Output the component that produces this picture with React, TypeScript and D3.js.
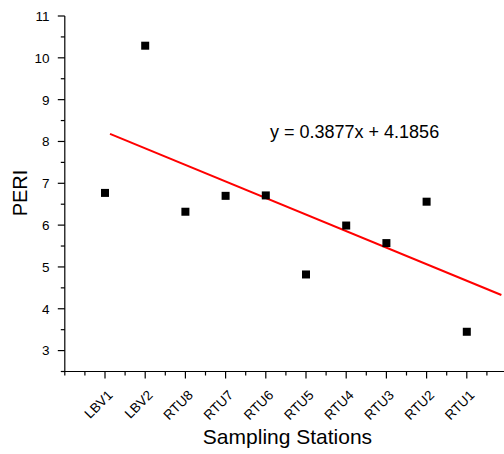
import React from 'react';
import * as d3 from 'd3';

// sampling stations, left to right
const stations = ['LBV1', 'LBV2', 'RTU8', 'RTU7', 'RTU6', 'RTU5', 'RTU4', 'RTU3', 'RTU2', 'RTU1'];
// PERI value per station
const peri = [6.77, 10.29, 6.32, 6.70, 6.71, 4.82, 5.99, 5.57, 6.56, 3.45];
// fitted line as drawn: x position (station index) and y
const fitX = [1.125, 10.86];
const fitY = [8.18, 4.33];
const yTicks = [3, 4, 5, 6, 7, 8, 9, 10, 11];
const equation = 'y = 0.3877x + 4.1856';

const W = 504;
const H = 454;
const font = '"Liberation Sans", Arial, sans-serif';

const App = () => {
  const x = d3.scaleLinear().domain([0, 11]).range([64.8, 507]);
  const y = d3.scaleLinear().domain([2.5, 11]).range([371.5, 16]);
  const x0 = x(0);
  const yBase = y(2.5);

  const yMinor = d3.range(2.5, 11, 0.5).filter(v => !Number.isInteger(v));
  const xMinor = d3.range(0, 11, 0.5).filter(v => !Number.isInteger(v) || v === 0);
  const line = d3.line<number>().x((_, i) => x(fitX[i])).y(d => y(d));

  return (
    <svg width={W} height={H} style={{ position: 'absolute', left: 0, top: 0, background: '#fff' }}
      fontFamily={font}>
      {/* y axis */}
      <line x1={x0} x2={x0} y1={y(11)} y2={yBase + 0.5} stroke="#000" strokeWidth={1.2} />
      {yTicks.map(t => (
        <g key={t}>
          <line x1={x0 - 7} x2={x0} y1={y(t)} y2={y(t)} stroke="#000" strokeWidth={1.2} />
          <text x={49.5} y={y(t)} dy="0.36em" textAnchor="end" fontSize={13.5} fill="#000">{t}</text>
        </g>
      ))}
      {yMinor.map(t => (
        <line key={'ym' + t} x1={x0 - 4} x2={x0} y1={y(t)} y2={y(t)} stroke="#000" strokeWidth={1.2} />
      ))}

      {/* x axis */}
      <line x1={x0} x2={x(11)} y1={yBase} y2={yBase} stroke="#000" strokeWidth={1.2} />
      {stations.map((s, i) => (
        <g key={s}>
          <line x1={x(i + 1)} x2={x(i + 1)} y1={yBase} y2={yBase + 7} stroke="#000" strokeWidth={1.2} />
          <text transform={`translate(${x(i + 1) + 5},${yBase + 21}) rotate(-45)`} dy="0.36em"
            textAnchor="end" fontSize={13.5} fill="#000">{s}</text>
        </g>
      ))}
      {xMinor.map(t => (
        <line key={'xm' + t} x1={x(t)} x2={x(t)} y1={yBase} y2={yBase + 4} stroke="#000" strokeWidth={1.2} />
      ))}

      {/* fit line */}
      <path d={line(fitY) || ''} fill="none" stroke="#ff0000" strokeWidth={2} />

      {/* points */}
      {peri.map((v, i) => (
        <rect key={i} x={x(i + 1) - 4} y={y(v) - 4} width={8} height={8} fill="#000" />
      ))}

      <text x={270} y={137.5} fontSize={18} fill="#000">{equation}</text>

      <text transform={`translate(27,193) rotate(-90)`} textAnchor="middle" fontSize={20} fill="#000">PERI</text>
      <text x={287.5} y={444} textAnchor="middle" fontSize={21} fill="#000">Sampling Stations</text>
    </svg>
  );
};

export default App;
